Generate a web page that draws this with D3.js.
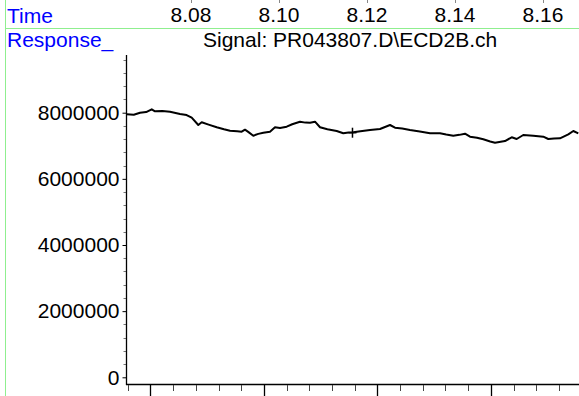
<!DOCTYPE html>
<html><head><meta charset="utf-8">
<script src="https://cdn.jsdelivr.net/npm/d3@7"></script>
<style>
body{margin:0;background:#fff;}
svg{display:block;font-family:"Liberation Sans",Arial,sans-serif;}
</style></head>
<body><svg id="c" width="579" height="396"></svg>
<script>
// ---- data ----
const timeTicks = [8.08, 8.10, 8.12, 8.14, 8.16];
const responseTicks = [0, 2000000, 4000000, 6000000, 8000000];
const times = [8.06539, 8.06700, 8.06841, 8.06980, 8.07107, 8.07182, 8.07350, 8.07523, 8.07750, 8.07900,
  8.08016, 8.08166, 8.08243, 8.08400, 8.08584, 8.08750, 8.08886, 8.09050, 8.09152, 8.09227,
  8.09300, 8.09416, 8.09530, 8.09643, 8.09795, 8.09909, 8.10023, 8.10175, 8.10300, 8.10477,
  8.10600, 8.10705, 8.10818, 8.10932, 8.11100, 8.11311, 8.11461, 8.11580, 8.11689, 8.11850,
  8.12068, 8.12295, 8.12523, 8.12636, 8.12800, 8.12977, 8.13200, 8.13432, 8.13659, 8.13800,
  8.13961, 8.14100, 8.14227, 8.14341, 8.14500, 8.14643, 8.14800, 8.14909, 8.15136, 8.15289,
  8.15402, 8.15552, 8.15780, 8.16007, 8.16120, 8.16250, 8.16386, 8.16575, 8.16689, 8.16802];
const responses = [7952000, 7940000, 8000000, 8020000, 8103000, 8042000, 8050000, 8030000, 7961000, 7930000,
  7849000, 7628000, 7710000, 7640000, 7559000, 7500000, 7456000, 7440000, 7426000, 7486000,
  7420000, 7305000, 7360000, 7395000, 7426000, 7559000, 7540000, 7577000, 7650000, 7728000,
  7700000, 7698000, 7728000, 7559000, 7500000, 7447000, 7377000, 7400000, 7407000, 7440000,
  7477000, 7507000, 7628000, 7547000, 7520000, 7477000, 7430000, 7377000, 7377000, 7340000,
  7305000, 7330000, 7365000, 7274000, 7240000, 7196000, 7130000, 7093000, 7144000, 7256000,
  7205000, 7326000, 7305000, 7274000, 7205000, 7220000, 7226000, 7347000, 7447000, 7377000];
const markerTime = 8.1167;
const markerResponse = 7395000;
const signalTitle = "Signal: PR043807.D\\ECD2B.ch";
const bottomTickIndex = d3.range(0, 20);

// ---- scales ----
const svg = d3.select("#c");
const x = d3.scaleLinear().domain([8.08, 8.16]).range([191, 543]);
const y = d3.scaleLinear().domain([0, 8000000]).range([377.3, 112.7]);
const xb = d3.scaleLinear().domain([0, 1]).range([127.7, 150.4]);
const FS = "21px";

// green frame lines
svg.append("line").attr("x1",5.5).attr("x2",5.5).attr("y1",0).attr("y2",396).attr("stroke","#8fef8f").attr("stroke-width",1);
svg.append("line").attr("x1",5).attr("x2",579).attr("y1",28.5).attr("y2",28.5).attr("stroke","#8fef8f").attr("stroke-width",1.2);

// header texts
svg.append("text").attr("x",7).attr("y",23).attr("fill","#0000ff").style("font-size",FS).text("Time");
svg.append("text").attr("x",7).attr("y",47).attr("fill","#0000ff").style("font-size",FS).text("Response_");
svg.append("text").attr("x",203).attr("y",47).attr("fill","#000").style("font-size",FS).text(signalTitle);

// top time labels
svg.selectAll("text.tt").data(timeTicks).join("text").attr("class","tt")
  .attr("x", d => x(d)).attr("y", 22).attr("text-anchor","middle").attr("fill","#000")
  .style("font-size",FS).text(d => d3.format(".2f")(d));
svg.selectAll("line.ttk").data(timeTicks).join("line").attr("class","ttk")
  .attr("x1", d => Math.round(x(d))+0.5).attr("x2", d => Math.round(x(d))+0.5)
  .attr("y1",0).attr("y2",3).attr("stroke","#888");

// y axis
const yMinor = d3.range(0, 9800000, 400000).filter(v => v % 2000000 !== 0);
svg.selectAll("line.ym").data(yMinor).join("line").attr("class","ym")
  .attr("x1",123.5).attr("x2",126.5)
  .attr("y1", d => Math.round(y(d))+0.5).attr("y2", d => Math.round(y(d))+0.5)
  .attr("stroke","#777").attr("stroke-width",1);
const yAxis = d3.axisLeft(y).tickValues(responseTicks).tickFormat(d3.format("d")).tickSize(4).tickPadding(3);
const gy = svg.append("g").attr("transform","translate(126.5,0)").call(yAxis);
gy.select(".domain").remove();
gy.selectAll("text").style("font-size",FS).style("font-family","Liberation Sans, Arial, sans-serif").attr("fill","#000");
gy.selectAll("line").attr("stroke","#000");
svg.append("line").attr("x1",126.5).attr("x2",126.5).attr("y1",55).attr("y2",385).attr("stroke","#000").attr("stroke-width",1.3);

// bottom axis
svg.append("line").attr("x1",126).attr("x2",579).attr("y1",384.5).attr("y2",384.5).attr("stroke","#000").attr("stroke-width",1.3);
svg.selectAll("line.bt").data(bottomTickIndex).join("line").attr("class","bt")
  .attr("x1", d => Math.round(xb(d))+0.5).attr("x2", d => Math.round(xb(d))+0.5)
  .attr("y1",385).attr("y2", d => (d % 5 === 1) ? 396 : 391)
  .attr("stroke", d => (d % 5 === 1) ? "#000" : "#444").attr("stroke-width", d => (d % 5 === 1) ? 1.3 : 1);

// trace
const pts = times.map((t,i) => [t, responses[i]]);
const line = d3.line().x(d => x(d[0])).y(d => y(d[1]));
svg.append("path").datum(pts).attr("d", line).attr("fill","none")
  .attr("stroke","#000").attr("stroke-width",2).attr("stroke-linejoin","round");

// crosshair marker
const mx = x(markerTime), my = y(markerResponse);
svg.append("line").attr("x1",mx).attr("x2",mx).attr("y1",my-5).attr("y2",my+5).attr("stroke","#000").attr("stroke-width",1.5);
svg.append("line").attr("x1",mx-4).attr("x2",mx+4).attr("y1",my).attr("y2",my).attr("stroke","#000").attr("stroke-width",1.5);
</script></body></html>
